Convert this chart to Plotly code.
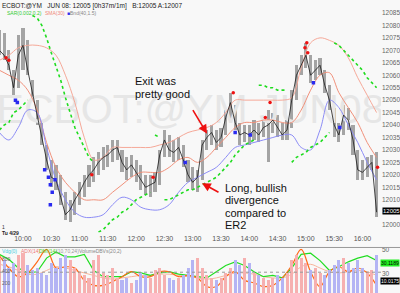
import plotly.graph_objects as go
import pandas as pd

DAY = "2008-04-29"

# ---------------- price bars (5-minute) ----------------
bar_high = [12078, 12077, 12070, 12062, 12076, 12079, 12074, 12058, 12050, 12042,
            12032, 12026, 12024, 12020, 12013, 12010, 12013, 12017, 12020, 12024,
            12027, 12029, 12031, 12032, 12034, 12034, 12030, 12027, 12028, 12026,
            12024, 12020, 12020, 12021, 12030, 12038, 12036, 12034, 12035, 12032,
            12026, 12023, 12022, 12034, 12038, 12040, 12038, 12039, 12046, 12053,
            12048, 12041, 12040, 12040, 12042, 12041, 12043, 12046, 12045, 12044,
            12041, 12042, 12054, 12064, 12068, 12073, 12068, 12066, 12067, 12062,
            12056, 12047, 12041, 12048, 12047, 12040, 12030, 12026, 12027, 12028,
            12029]
bar_low = [12068, 12066, 12062, 12052, 12055, 12062, 12060, 12050, 12040, 12032,
           12022, 12015, 12014, 12008, 12002, 12001, 12004, 12008, 12011, 12015,
           12017, 12020, 12022, 12023, 12025, 12026, 12021, 12018, 12019, 12017,
           12014, 12012, 12011, 12013, 12016, 12027, 12027, 12025, 12026, 12023,
           12017, 12014, 12013, 12018, 12030, 12032, 12030, 12031, 12036, 12042,
           12038, 12032, 12033, 12032, 12034, 12033, 12035, 12025, 12037, 12035,
           12034, 12034, 12039, 12050, 12060, 12063, 12057, 12058, 12060, 12053,
           12046, 12035, 12033, 12036, 12038, 12028, 12018, 12018, 12019, 12022,
           12003]
bar_close = [12070, 12068, 12064, 12055, 12068, 12072, 12062, 12053, 12044, 12036,
             12026, 12019, 12018, 12011, 12004, 12006, 12010, 12013, 12017, 12020,
             12022, 12025, 12027, 12028, 12030, 12031, 12025, 12022, 12024, 12021,
             12018, 12015, 12016, 12017, 12028, 12034, 12030, 12029, 12031, 12026,
             12020, 12017, 12019, 12032, 12035, 12037, 12033, 12035, 12043, 12049,
             12041, 12036, 12037, 12036, 12038, 12036, 12039, 12040, 12042, 12039,
             12036, 12038, 12050, 12060, 12064, 12068, 12060, 12062, 12064, 12056,
             12050, 12040, 12036, 12044, 12042, 12034, 12022, 12021, 12023, 12025,
             12005]
sar = [12038, 12040, 12041, 12045, 12046, 12048, 12050, 12084, 12083, 12080,
       12075, 12069, 12063, 12058, 12051, 12045, 12039, 12035, 12031, 12027,
       12025, 11997, 11998, 12000, 12002, 12003, 12005, 12006, 12008, 12010,
       12011, 12012, 12013, 12036, 12035, 12010, 12010, 12011, 12012, 12013,
       12014, 12014, 12015, 12016, 12017, 12018, 12019, 12021, 12023, 12025,
       12028, 12030, 12032, 12033, 12034, 12056, 12056, 12055, 12055, 12054,
       12054, 12054, 12025, 12027, 12028, 12029, 12031, 12032, 12033, 12035,
       12037, 12073, 12072, 12070, 12068, 12066, 12064, 12062, 12059, 12057,
       12055]
volume = [700, 650, 500, 600, 750, 800, 550, 450, 500, 400, 350, 600, 500, 700, 750,
          650, 500, 400, 350, 300, 650, 750, 400, 350, 500, 300, 250, 300, 200, 250,
          400, 350, 300, 450, 500, 350, 300, 250, 300, 350, 500, 650, 700, 500, 350,
          300, 250, 300, 400, 500, 650, 550, 700, 600, 400, 350, 300, 250, 300, 350,
          300, 400, 650, 750, 700, 600, 450, 500, 400, 350, 450, 550, 650, 700, 600,
          500, 650, 500, 400, 450, 750]

# ---------------- bands (10-minute samples) ----------------
band_upper = [12066, 12068, 12071, 12072, 12072, 12071, 12068, 12060, 12049, 12035,
              12026, 12027, 12031, 12031, 12031, 12031, 12031, 12032, 12033, 12035,
              12037, 12038, 12039, 12041, 12045, 12050, 12050, 12050, 12050, 12050,
              12050, 12051, 12063, 12073, 12075, 12074, 12072, 12067, 12059, 12052,
              12045]
sma30 = [12062, 12060, 12058, 12054, 12046, 12033, 12023, 12017, 12013, 12010,
         12010, 12010, 12013, 12016, 12019, 12021, 12021, 12021, 12023, 12026,
         12027, 12025, 12027, 12031, 12035, 12039, 12041, 12041, 12042, 12042,
         12041, 12041, 12046, 12054, 12060, 12061, 12053, 12047, 12041, 12033,
         12027]
band_lower = [12037, 12034, 12039, 12046, 12045, 12031, 12018, 12010, 12005, 12003,
              12003, 12004, 12008, 12011, 12010, 12007, 12006, 12006, 12008, 12013,
              12017, 12019, 12021, 12023, 12027, 12031, 12032, 12033, 12034, 12035,
              12036, 12036, 12031, 12030, 12038, 12050, 12047, 12040, 12033, 12025,
              12018]
# lower panel indicators (10-minute samples)
dmi_line = [46, 42, 35, 31, 32, 43, 48, 44, 44, 46, 33, 28, 28, 28, 32, 31, 29, 31,
            32, 30, 29, 28, 27, 32, 37, 40, 37, 32, 28, 29, 27, 35, 46, 47, 41, 33,
            36, 40, 43, 45, 41]
adx_line = [45, 35, 28, 31, 40, 50, 35, 36, 35, 25, 21, 21, 24, 28, 32, 28, 28, 32,
            32, 28, 29, 27, 20, 20, 28, 32, 25, 23, 20, 21, 27, 37, 50, 32, 20, 32,
            36, 32, 35, 31, 21]
adx_slow = [38, 36, 33, 30, 30, 33, 36, 35, 33, 31, 29, 27, 26, 27, 28, 29, 29, 30,
            30, 29, 28, 27, 26, 27, 29, 31, 31, 30, 28, 27, 27, 30, 36, 38, 35, 32,
            31, 32, 33, 32, 29]

# signal markers
red_t = ["09:42", "09:45", "11:13", "12:18", "13:43", "14:17", "14:22", "14:59", "15:01", "15:02", "16:16"]
red_p = [12067, 12066, 12020, 12019, 12053, 12043, 12049, 12071, 12073, 12069, 12023]
blue_t = ["09:52", "09:54", "10:23", "10:27", "10:29", "10:31", "10:29", "10:34", "12:52", "13:45", "14:01", "15:08", "15:36"]
blue_p = [12050, 12049, 12022, 12019, 12016, 12013, 12008, 12018, 12025, 12037, 12036, 12057, 12039]

y_ticks = list(range(12000, 12090, 5))
x_tick_times = ["10:00", "10:30", "11:00", "11:30", "12:00", "12:30", "13:00",
                "13:30", "14:00", "14:30", "15:00", "15:30", "16:00"]

# ---------------- build ----------------
times = pd.date_range(f"{DAY} 09:35", periods=len(bar_close), freq="5min")
band_times = pd.date_range(f"{DAY} 09:35", periods=len(band_upper), freq="10min")
W, H = 400, 293
PLOT_R = 381
x_range = [pd.Timestamp(f"{DAY} 09:35:37"), pd.Timestamp(f"{DAY} 16:19:40")]
y_range = [11996.8, 12089.0]

FONT = "Liberation Sans, Arial, sans-serif"
fig = go.Figure()

# watermark (drawn first so it sits behind)
wm_x = x_range[0] + (x_range[1] - x_range[0]) * 0.5
wm_y = y_range[0] + (y_range[1] - y_range[0]) * 0.52
fig.add_trace(go.Scatter(x=[wm_x], y=[wm_y], mode="text", text=["ECBOT:@YM JUN08"],
                         textfont=dict(size=41, color="#e6e6e6", family=FONT),
                         hoverinfo="skip", showlegend=False))

for vals, col in [(band_upper, "#f5a898"), (sma30, "#f0907a"), (band_lower, "#8c8cf5")]:
    fig.add_trace(go.Scatter(x=band_times, y=vals, mode="lines", line=dict(color=col, width=1, shape="spline"),
                             showlegend=False, hoverinfo="skip"))

# SAR segments (break where it flips side)
sx, sy = [], []
prev = None
for t, s, c in zip(times, sar, bar_close):
    side = s > c
    if prev is not None and side != prev:
        sx.append(None); sy.append(None)
    sx.append(t); sy.append(s)
    prev = side
fig.add_trace(go.Scatter(x=sx, y=sy, mode="lines", line=dict(color="#1fdc1f", width=1.6, dash="dot"),
                         showlegend=False, hoverinfo="skip", connectgaps=False))

# price range bars
fig.add_trace(go.Bar(x=times, y=[h - l for h, l in zip(bar_high, bar_low)], base=bar_low,
                     width=3.4 * 60 * 1000, marker=dict(color="#a4a4a4", line=dict(width=0)),
                     showlegend=False, hoverinfo="skip"))
fig.add_trace(go.Scatter(x=times, y=bar_close, mode="lines", line=dict(color="#1a1a1a", width=0.8),
                         showlegend=False, hoverinfo="skip"))

fig.add_trace(go.Scatter(x=[pd.Timestamp(f"{DAY} {t}") for t in red_t], y=red_p, mode="markers",
                         marker=dict(color="#ee1111", size=3.5, symbol="circle"), showlegend=False, hoverinfo="skip"))
fig.add_trace(go.Scatter(x=[pd.Timestamp(f"{DAY} {t}") for t in blue_t], y=blue_p, mode="markers",
                         marker=dict(color="#2a2af0", size=3.5, symbol="square"), showlegend=False, hoverinfo="skip"))

# ---------- lower panel ----------
vol_colors = ["#b4b4f4" if i > 0 and bar_close[i] < bar_close[i - 1] else "#f6b0b0" for i in range(len(volume))]
fig.add_trace(go.Bar(x=times, y=volume, width=3.2 * 60 * 1000, marker=dict(color=vol_colors, line=dict(width=0)),
                     xaxis="x2", yaxis="y3", showlegend=False, hoverinfo="skip"))
fig.add_trace(go.Scatter(x=band_times, y=adx_slow, mode="lines", line=dict(color="#f7b49a", width=1, shape="spline"),
                         xaxis="x2", yaxis="y2", showlegend=False, hoverinfo="skip"))
fig.add_trace(go.Scatter(x=band_times, y=dmi_line, mode="lines", line=dict(color="#22dd22", width=1.2),
                         xaxis="x2", yaxis="y2", showlegend=False, hoverinfo="skip"))
fig.add_trace(go.Scatter(x=band_times, y=adx_line, mode="lines", line=dict(color="#ff6a1a", width=1.2, shape="spline"),
                         xaxis="x2", yaxis="y2", showlegend=False, hoverinfo="skip"))

top_dom = [1 - 232 / H, 1]
bot_dom = [0, 45 / H]
xdom = [0, PLOT_R / W]

fig.update_layout(
    width=W, height=H, margin=dict(l=0, r=0, t=0, b=0),
    paper_bgcolor="#f8f8f8", plot_bgcolor="#f8f8f8",
    font=dict(family=FONT, size=7, color="#555"),
    bargap=0, barmode="overlay",
    xaxis=dict(domain=xdom, range=x_range, type="date", showgrid=False, zeroline=False,
               tickvals=[pd.Timestamp(f"{DAY} {t}") for t in x_tick_times], ticktext=x_tick_times,
               ticks="", tickfont=dict(size=7, color="#555"), showline=False, anchor="y"),
    yaxis=dict(domain=top_dom, range=y_range, side="right", showgrid=False, zeroline=False,
               tickvals=y_ticks, ticktext=[str(v) for v in y_ticks], ticks="",
               tickfont=dict(size=6.5, color="#666"), anchor="x"),
    xaxis2=dict(domain=xdom, range=x_range, type="date", showgrid=False, zeroline=False,
                showticklabels=False, anchor="y2"),
    yaxis2=dict(domain=bot_dom, range=[14.8, 50.8], side="right", showgrid=False, zeroline=False,
                tickvals=[50, 30], ticks="", tickfont=dict(size=6.5, color="#666"), anchor="x2"),
    yaxis3=dict(domain=bot_dom, range=[0, 900], overlaying="y2", showticklabels=False,
                showgrid=False, zeroline=False, anchor="x2"),
)

def px(x, y):
    return x / W, 1 - y / H

shapes = [
    dict(type="line", xref="paper", yref="paper", x0=0, x1=1, y0=1 - 247 / H, y1=1 - 247 / H,
         line=dict(color="#999", width=1)),
    dict(type="line", xref="paper", yref="paper", x0=0, x1=PLOT_R / W, y0=1 - 272 / H, y1=1 - 272 / H,
         line=dict(color="#999", width=1, dash="dot")),
]
fig.update_layout(shapes=shapes)

anns = []
def txt(x, y, s, size=7, color="#111", xanchor="left", bg=None, bold=False):
    ax, ay = px(x, y)
    anns.append(dict(x=ax, y=ay, xref="paper", yref="paper", text=(f"<b>{s}</b>" if bold else s),
                     showarrow=False, xanchor=xanchor, yanchor="middle",
                     font=dict(size=size, color=color, family=FONT),
                     bgcolor=bg, borderpad=0))

txt(1, 3, "ECBOT:@YM   JUN 08: 12005 [0h37m/1m]   B:12005 A:12007", size=6.5, color="#222")
txt(6, 10, "SAR(0.002,0.2)", size=5, color="#33cc33")
txt(44, 10, "SMA(30)", size=5, color="#f08878")
txt(66, 10, "<span style='color:#3333ee'>■</span>Bnd(40,1.5)", size=5, color="#888")
txt(1, 226, "1", size=5, color="#333")
txt(1, 232, "Tu 4/29", size=5, color="#222", bold=True)
txt(134, 79, "Exit was", size=11, color="#111")
txt(134, 92, "pretty good", size=11, color="#111")
for i, s in enumerate(["Long, bullish", "divergence", "compared to", "ER2"]):
    txt(224, 187 + 12.5 * i, s, size=11, color="#111")
txt(382, 210, "12005", size=6, color="#fff", bg="#000")
txt(1, 251, "Vdg(0)", size=5, color="#44ccdd")
txt(20, 251, "ADX(14)", size=5, color="#ee7777")
txt(38, 251, "DMI(14)", size=5, color="#55cc22")
txt(55, 251, "(10,70,24)", size=5, color="#999")
txt(78, 251, "VolumeDBVs(20,2)", size=5, color="#888")
txt(1, 259, "800", size=5, color="#666")
txt(1, 271, "400", size=5, color="#666")
txt(1, 283, "200", size=5, color="#666")
txt(380, 263, "30.1189", size=5, color="#000", bg="#22ee22")
txt(380, 281, "10.0175", size=5, color="#fff", bg="#000")

# arrows (tail offsets in pixels)
def arrow(x0, y0, x1, y1, width):
    hx, hy = px(x1, y1)
    anns.append(dict(x=hx, y=hy, xref="paper", yref="paper", axref="pixel", ayref="pixel",
                     ax=x0 - x1, ay=y0 - y1, showarrow=True, arrowhead=2, arrowsize=1.1,
                     arrowwidth=width, arrowcolor="#ee1111", text=""))
arrow(192, 107, 207, 132, 1.6)
arrow(220, 192, 202, 182, 1.6)
fig.update_layout(annotations=anns)

fig.write_html("out.html")
